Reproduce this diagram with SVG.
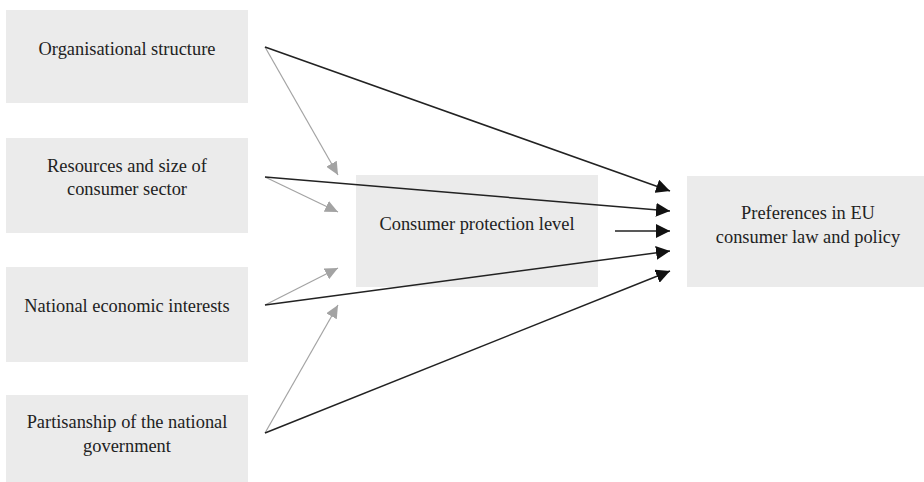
<svg xmlns="http://www.w3.org/2000/svg" width="924" height="482" viewBox="0 0 924 482">
<style>
.box{fill:#ebebeb}
text{font-family:'Liberation Serif','DejaVu Serif',serif;font-size:18.4px;fill:#222;text-anchor:middle}
.blk{stroke:#222;stroke-width:1.5;fill:none}
.gry{stroke:#a3a3a3;stroke-width:1.2;fill:none}
</style>
<defs>
<marker id="ab" markerUnits="userSpaceOnUse" markerWidth="14" markerHeight="14" refX="14" refY="7" orient="auto">
<path d="M0,0 L14,7 L0,14 z" fill="#111"/>
</marker>
<marker id="ag" markerUnits="userSpaceOnUse" markerWidth="13" markerHeight="12" refX="13" refY="6" orient="auto">
<path d="M0,0 L13,6 L0,12 z" fill="#a3a3a3"/>
</marker>
</defs>
<g id="n1"><rect class="box" x="6" y="10" width="242" height="93"/><text x="127" y="55">Organisational structure</text></g>
<g id="n2"><rect class="box" x="6" y="138" width="242" height="95"/><text x="127" y="172">Resources and size of</text><text x="127" y="195">consumer sector</text></g>
<g id="n3"><rect class="box" x="6" y="267" width="242" height="95"/><text x="127" y="312">National economic interests</text></g>
<g id="n4"><rect class="box" x="6" y="395" width="242" height="95"/><text x="127" y="428">Partisanship of the national</text><text x="127" y="452">government</text></g>
<g id="n5"><rect class="box" x="356" y="175" width="242" height="112"/><text x="477" y="230">Consumer protection level</text></g>
<g id="n6"><rect class="box" x="687" y="176" width="243" height="111"/><text x="808" y="219">Preferences in EU</text><text x="808" y="243">consumer law and policy</text></g>
<g id="connectors">
<line class="gry" x1="265" y1="47" x2="338" y2="175" marker-end="url(#ag)"/>
<line class="gry" x1="265" y1="177" x2="338" y2="212" marker-end="url(#ag)"/>
<line class="gry" x1="265" y1="305" x2="338" y2="268" marker-end="url(#ag)"/>
<line class="gry" x1="265" y1="433" x2="338" y2="305" marker-end="url(#ag)"/>
<line class="blk" x1="265" y1="47" x2="670" y2="191" marker-end="url(#ab)"/>
<line class="blk" x1="265" y1="177" x2="670" y2="211" marker-end="url(#ab)"/>
<line class="blk" x1="615" y1="231" x2="670" y2="231" marker-end="url(#ab)"/>
<line class="blk" x1="265" y1="305" x2="670" y2="251" marker-end="url(#ab)"/>
<line class="blk" x1="265" y1="433" x2="670" y2="271" marker-end="url(#ab)"/>
</g>
</svg>
